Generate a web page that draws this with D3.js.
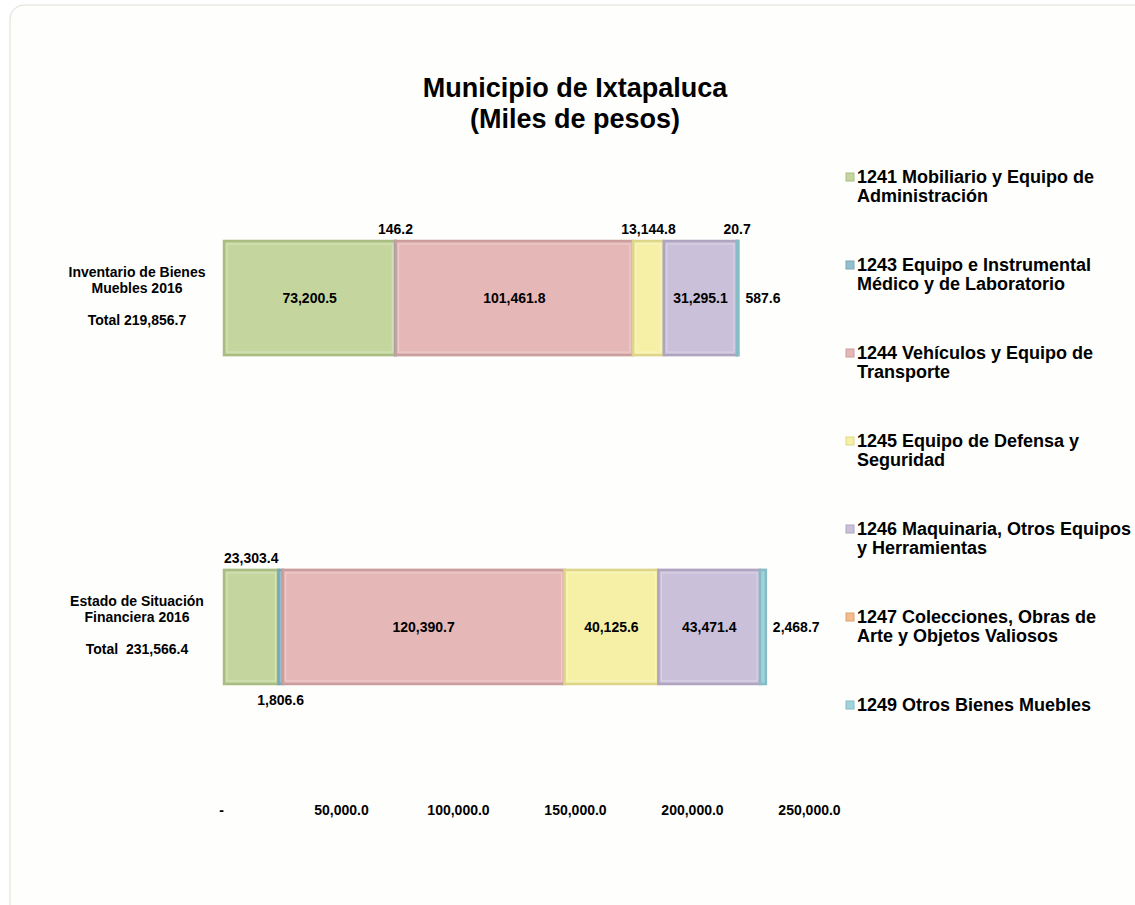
<!DOCTYPE html>
<html>
<head>
<meta charset="utf-8">
<script src="https://cdn.jsdelivr.net/npm/d3@7"></script>
<style>
  body { margin: 0; background: #ffffff; }
  svg { font-family: "Liberation Sans", Arial, sans-serif; }
  .axis text { font-size: 14px; font-weight: bold; fill: #000; font-family: "Liberation Sans", Arial, sans-serif; }
</style>
</head>
<body>
<svg id="chart" width="1135" height="905"></svg>
<script>
// categories (rows) and series (stack segments)
let rows = ["Inventario de Bienes|Muebles 2016", "Estado de Situación|Financiera 2016"];
let totals = ["Total 219,856.7", "Total  231,566.4"];
let series = ["1241 Mobiliario y Equipo de|Administración",
              "1243 Equipo e Instrumental|Médico y de Laboratorio",
              "1244 Vehículos y Equipo de|Transporte",
              "1245 Equipo de Defensa y|Seguridad",
              "1246 Maquinaria, Otros Equipos|y Herramientas",
              "1247 Colecciones, Obras de|Arte y Objetos Valiosos",
              "1249 Otros Bienes Muebles"];
let inventario = [73200.5, 146.2, 101461.8, 13144.8, 31295.1, 20.7, 587.6];
let estado     = [23303.4, 1806.6, 120390.7, 40125.6, 43471.4, 0, 2468.7];
let ticks = [0, 50000, 100000, 150000, 200000, 250000];

let colors = ["#c4d69e", "#93c0cf", "#e6b7b7", "#f5f0a6", "#cac0da", "#f6bb8c", "#a0d3dc"];
let strokes = ["#a9bd83", "#7ba6b5", "#c99e9d", "#ddd68a", "#b0a5c0", "#dca275", "#86bcc6"];

// label placement for each segment: in = centered, up = above, down = below, right = right of bar, none
let placeTop    = ["in", "up", "in", "up", "in", "up", "right"];
let placeBottom = ["up", "down", "in", "in", "in", "none", "right"];

let chart = d3.select("#chart");
let fmt = d3.format(",.1f");

// card frame
chart.append("rect")
    .attr("x", 10).attr("y", 5)
    .attr("width", 1140).attr("height", 920)
    .attr("rx", 14)
    .attr("fill", "#fefefd")
    .attr("stroke", "#dcdcd8")
    .attr("stroke-width", 1);

// title
chart.append("text")
    .attr("x", 575).attr("y", 97)
    .attr("text-anchor", "middle")
    .style("font-size", "27px").style("font-weight", "bold")
    .text("Municipio de Ixtapaluca");
chart.append("text")
    .attr("x", 575).attr("y", 128)
    .attr("text-anchor", "middle")
    .style("font-size", "27px").style("font-weight", "bold")
    .text("(Miles de pesos)");

let x = d3.scaleLinear()
    .domain([0, 250000])
    .range([224, 809]);

let y = d3.scaleBand()
    .domain(rows)
    .range([241, 684])
    .paddingInner(0.653)
    .paddingOuter(0);

// x axis, labels only
let xAxis = d3.axisBottom(x)
    .tickValues(ticks)
    .tickSize(0)
    .tickFormat(function(d) { return d === 0 ? "-" : fmt(d); });
let xAxisGroup = chart.append("g")
    .attr("class", "axis")
    .attr("transform", "translate(0,802)")
    .call(xAxis);
xAxisGroup.select(".domain").remove();
xAxisGroup.selectAll("text").filter(function(d) { return d === 0; }).attr("dx", -3);

// stacked bars
let data = [inventario, estado];
let places = [placeTop, placeBottom];

data.forEach(function(vals, r) {
    let row = rows[r];
    let y0 = y(row), bh = y.bandwidth();
    let segs = [];
    let acc = 0;
    vals.forEach(function(v, i) {
        segs.push({ i: i, v: v, start: acc, end: acc + v });
        acc += v;
    });

    let g = chart.append("g");
    g.selectAll("rect")
        .data(segs.filter(function(d) { return d.v > 0; }))
        .enter()
        .append("rect")
        .attr("x", function(d) { return x(d.start); })
        .attr("y", y0)
        .attr("width", function(d) { return x(d.end) - x(d.start); })
        .attr("height", bh)
        .attr("fill", function(d) { return colors[d.i]; })
        .attr("stroke", function(d) { return strokes[d.i]; })
        .attr("stroke-width", 2.5);

    // light inner highlight for bevel look
    g.selectAll(".hl")
        .data(segs.filter(function(d) { return x(d.end) - x(d.start) > 6; }))
        .enter()
        .append("rect")
        .attr("class", "hl")
        .attr("x", function(d) { return x(d.start) + 3; })
        .attr("y", y0 + 3)
        .attr("width", function(d) { return x(d.end) - x(d.start) - 6; })
        .attr("height", bh - 6)
        .attr("fill", "none")
        .attr("stroke", "#ffffff")
        .attr("stroke-opacity", 0.35)
        .attr("stroke-width", 1);

    // value labels
    g.selectAll(".lbl")
        .data(segs.filter(function(d) { return places[r][d.i] !== "none"; }))
        .enter()
        .append("text")
        .attr("class", "lbl")
        .style("font-size", "14px").style("font-weight", "bold")
        .attr("text-anchor", function(d) { return places[r][d.i] === "right" ? "start" : "middle"; })
        .attr("x", function(d) {
            let p = places[r][d.i];
            if (p === "right") return x(acc) + 7;
            return (x(d.start) + x(d.end)) / 2;
        })
        .attr("y", function(d) {
            let p = places[r][d.i];
            if (p === "up") return y0 - 7;
            if (p === "down") return y0 + bh + 21;
            return y0 + bh / 2 + 5;
        })
        .text(function(d) { return fmt(d.v); });

    // row labels
    let parts = row.split("|");
    let cx = 137;
    parts.forEach(function(t, k) {
        chart.append("text")
            .attr("x", cx).attr("y", y0 + 36 + k * 16)
            .attr("text-anchor", "middle")
            .style("font-size", "14px").style("font-weight", "bold")
            .text(t);
    });
    chart.append("text")
        .attr("x", cx).attr("y", y0 + 84)
        .attr("text-anchor", "middle")
        .style("font-size", "14px").style("font-weight", "bold")
        .style("white-space", "pre")
        .text(totals[r]);
});

// legend
let legend = chart.selectAll(".legend")
    .data(series)
    .enter()
    .append("g")
    .attr("class", "legend")
    .attr("transform", function(d, i) { return "translate(846," + (183 + i * 88) + ")"; });

legend.append("rect")
    .attr("x", 0).attr("y", -10)
    .attr("width", 8).attr("height", 8)
    .attr("fill", function(d, i) { return colors[i]; })
    .attr("stroke", function(d, i) { return strokes[i]; })
    .attr("stroke-width", 1);

legend.each(function(d) {
    let g = d3.select(this);
    d.split("|").forEach(function(t, k) {
        g.append("text")
            .attr("x", 11).attr("y", k * 19)
            .style("font-size", "18px").style("font-weight", "bold")
            .text(t);
    });
});
</script>
</body>
</html>
